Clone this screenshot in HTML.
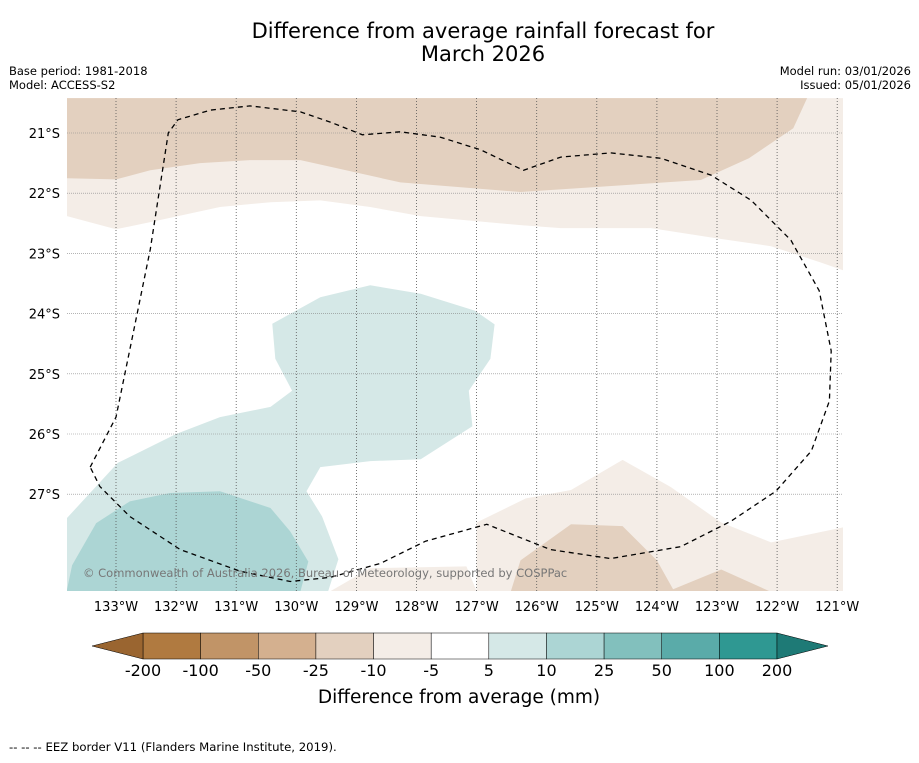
<!DOCTYPE html>
<html><head><meta charset="utf-8">
<style>
body{margin:0;background:#fff;font-family:"Liberation Sans","DejaVu Sans",sans-serif;}
svg text{font-family:"DejaVu Sans","Liberation Sans",sans-serif;}
</style></head>
<body>
<svg id="c" width="919" height="758" xmlns="http://www.w3.org/2000/svg">
<rect width="919" height="758" fill="#fff"/>
<text x="483" y="38" font-size="21" text-anchor="middle">Difference from average rainfall forecast for</text>
<text x="483" y="61" font-size="21" text-anchor="middle">March 2026</text>
<text x="9" y="75" font-size="11.5">Base period: 1981-2018</text>
<text x="9" y="89" font-size="11.5">Model: ACCESS-S2</text>
<text x="911" y="75" font-size="11.5" text-anchor="end">Model run: 03/01/2026</text>
<text x="911" y="89" font-size="11.5" text-anchor="end">Issued: 05/01/2026</text>
<g id="map"></g>
<g id="cb"></g>
<text x="459" y="703" font-size="18.5" text-anchor="middle">Difference from average (mm)</text>
<text x="9" y="751" font-size="11.7">--  --  -- EEZ border V11 (Flanders Marine Institute, 2019).</text>
</svg>
<script>
const lonTicks=[133,132,131,130,129,128,127,126,125,124,123,122,121];
const latTicks=[21,22,23,24,25,26,27];
const cbLabels=["-200","-100","-50","-25","-10","-5","5","10","25","50","100","200"];
const cbColors=["#b07a40","#c19467","#d4b08f","#e3d0bf","#f4ede7","#ffffff","#d5e8e7","#acd5d4","#82c0bd","#5aaba9","#2f9892"];
const cbLow="#9a6530", cbHigh="#1e7a76";
// contour regions in [lonW, latS]
const lightTop=[[133.82,20.42],[120.9,20.42],[120.9,23.28],[121.28,23.15],[122.1,22.88],[123.0,22.75],[124.1,22.58],[125.6,22.58],[126.27,22.53],[127.93,22.38],[128.77,22.23],[129.6,22.12],[130.43,22.15],[131.27,22.23],[132.43,22.48],[133,22.6],[133.82,22.38]];
const brownTop=[[133.82,20.42],[121.5,20.42],[121.73,20.92],[122.47,21.42],[123.27,21.78],[126.27,21.98],[128.27,21.82],[129.93,21.45],[130.77,21.45],[131.6,21.5],[132.43,21.62],[133,21.77],[133.82,21.75]];
const tealLight=[[130.4,24.17],[129.6,23.73],[128.77,23.53],[127.93,23.67],[127.03,23.95],[126.7,24.18],[126.77,24.75],[127.13,25.28],[127.07,25.87],[127.93,26.42],[128.77,26.45],[129.6,26.55],[129.83,26.95],[129.57,27.37],[129.3,28.08],[129.47,28.61],[133.82,28.61],[133.82,27.4],[132.97,26.48],[132.0,26.0],[131.27,25.72],[130.43,25.55],[130.07,25.28],[130.35,24.75]];
const tealDark=[[133.82,28.61],[133.73,28.18],[133.33,27.48],[132.77,27.12],[132.1,26.98],[131.27,26.95],[130.43,27.23],[130.1,27.62],[129.8,28.12],[129.93,28.61]];
const lightBR=[[127,28.61],[127,27.47],[126.18,27.07],[125.43,26.93],[124.57,26.43],[123.77,26.88],[122.93,27.47],[122.1,27.8],[120.9,27.55],[120.9,28.61]];
const lightBM=[[129.43,28.61],[128.77,28.23],[127.17,28.2],[127,28.61]];
const brownBR=[[126.43,28.61],[126.27,28.1],[125.43,27.5],[124.57,27.53],[124.0,28.1],[123.73,28.58],[122.93,28.25],[122.13,28.61]];
const eez=[[133.43,26.55],[133,25.72],[132.77,24.6],[132.43,22.93],[132.13,21],[131.97,20.78],[131.43,20.62],[130.77,20.55],[129.93,20.65],[129.43,20.82],[128.9,21.03],[128.27,20.98],[127.6,21.07],[126.93,21.28],[126.22,21.62],[125.6,21.4],[124.77,21.33],[123.93,21.42],[123.1,21.7],[122.43,22.12],[121.77,22.78],[121.3,23.62],[121.1,24.62],[121.13,25.45],[121.43,26.28],[122.02,26.95],[122.77,27.45],[123.6,27.87],[124.77,28.07],[125.77,27.92],[126.83,27.5],[127.85,27.78],[128.6,28.15],[129.43,28.38],[130.1,28.45],[130.93,28.28],[131.93,27.92],[132.77,27.37],[133.27,26.87],[133.43,26.55]];
const X0=67,X1=843,Y0=98,Y1=591;
function xs(lon){return 116+(133-lon)*60.1;}
function ys(lat){return 133+(lat-21)*60.2;}
const NS="http://www.w3.org/2000/svg";
function mk(t,a,p){const e=document.createElementNS(NS,t);for(const k in a)e.setAttribute(k,a[k]);p.appendChild(e);return e;}
const map=document.getElementById('map');
const defs=mk('defs',{},map);const cp=mk('clipPath',{id:'clip'},defs);mk('rect',{x:X0,y:Y0,width:X1-X0,height:Y1-Y0},cp);
const g=mk('g',{'clip-path':'url(#clip)'},map);
function pts(a){return a.map(p=>xs(p[0]).toFixed(1)+','+ys(p[1]).toFixed(1)).join(' ');}
const regs=[[lightTop,'#f4ede7','region-light-brown-north'],[brownTop,'#e3d0bf','region-brown-north'],[tealLight,'#d5e8e7','region-teal-light'],[tealDark,'#acd5d4','region-teal-dark'],[lightBR,'#f4ede7','region-light-brown-south'],[lightBM,'#f4ede7','region-light-brown-small'],[brownBR,'#e3d0bf','region-brown-south']];
regs.forEach(r=>{const e=mk('polygon',{points:pts(r[0]),fill:r[1]},g);

});
lonTicks.forEach(l=>{const x=xs(l);const e=mk('line',{x1:x,x2:x,y1:Y0,y2:Y1,stroke:'#555','stroke-width':0.8,'stroke-dasharray':'1,2'},g);


const t=mk('text',{x:x,y:611,'font-size':13,'text-anchor':'middle'},map);t.textContent=l+'°W';

});
latTicks.forEach(l=>{const y=ys(l);const e=mk('line',{x1:X0,x2:X1,y1:y,y2:y,stroke:'#888','stroke-width':0.6,'stroke-dasharray':'1,1'},g);


const t=mk('text',{x:60,y:y+5,'font-size':13,'text-anchor':'end'},map);t.textContent=l+'°S';

});
const ez=mk('polyline',{points:pts(eez),fill:'none',stroke:'#000','stroke-width':1.3,'stroke-dasharray':'5,4'},g);


const cr=mk('text',{x:83,y:577,'font-size':11.5,fill:'#777'},map);cr.textContent='© Commonwealth of Australia 2026, Bureau of Meteorology, supported by COSPPac';


// colorbar
const cb=document.getElementById('cb');const cx0=143,cx1=777,cy0=633,cy1=659;const w=(cx1-cx0)/cbColors.length;
cbColors.forEach((c,i)=>{const e=mk('rect',{x:cx0+i*w,y:cy0,width:w,height:cy1-cy0,fill:c,stroke:'#000','stroke-width':0.5},cb);

});
const lo=mk('polygon',{points:`${cx0},${cy0} ${cx0},${cy1} 92,646`,fill:cbLow,stroke:'#000','stroke-width':0.5},cb);


const hi=mk('polygon',{points:`${cx1},${cy0} ${cx1},${cy1} 828,646`,fill:cbHigh,stroke:'#000','stroke-width':0.5},cb);


cbLabels.forEach((l,i)=>{const t=mk('text',{x:cx0+i*w,y:676,'font-size':16,'text-anchor':'middle'},cb);t.textContent=l;

});
</script>
</body></html>
